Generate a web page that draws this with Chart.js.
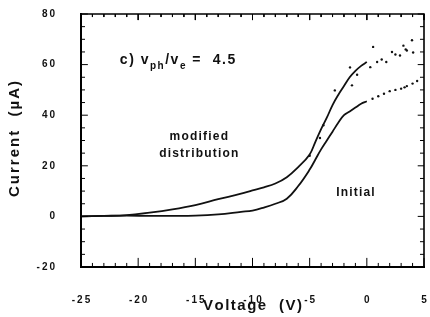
<!DOCTYPE html>
<html>
<head>
<meta charset="utf-8">
<script src="https://cdn.jsdelivr.net/npm/chart.js@4"></script>
<style>
  html, body { margin: 0; padding: 0; background: #fff; }
</style>
</head>
<body>
<canvas id="chart" width="430" height="317"></canvas>
<script>
/* ---------- data ---------- */

// fitted curves (solid lines)
const fitVoltage = [-25, -23, -21, -19, -17, -15, -13, -11, -10, -9, -8, -7, -6, -5, -4.5, -4, -3.5, -3, -2.5, -2, -1.5, -1, -0.5, 0];
const modifiedFit = [0, 0.2, 0.5, 1.5, 2.8, 4.5, 6.8, 9, 10.3, 11.5, 13, 15.5, 19.5, 24.5, 29.5, 34.5, 39, 44, 48, 51.5, 55, 57.5, 59.5, 61];
const initialFit  = [0, 0.2, 0.3, 0.2, 0.2, 0.3, 0.8, 1.8, 2.3, 3.5, 5, 7, 12, 18.5, 22.5, 26.5, 30, 33.5, 37, 40, 41.5, 43, 44.5, 45.5];

// loose measured points (dots)
const modifiedDotV = [-5, -4.1, -3.8, -2.8, -1.3, -1.47, -0.85, 0.3, 0.55, 0.9, 1.3, 1.7, 2.2, 2.5, 2.9, 3.2, 3.4, 3.5, 3.95, 4.05];
const modifiedDotI = [24, 31, 36, 49.8, 51.8, 58.9, 56, 59, 67, 61, 62, 61, 65, 64, 63.6, 67.5, 66, 65.6, 69.6, 64.8];
const initialDotV = [0.5, 1.0, 1.5, 2.0, 2.5, 3.0, 3.3, 3.5, 4.0, 4.4];
const initialDotI = [46.5, 47.5, 48.5, 49.5, 50, 50.5, 51, 51.5, 52.5, 53.5];

// axis ticks: labels every 5 V / 20 uA, small marks every 1 V / 5 uA
const xTicks = [-25, -20, -15, -10, -5, 0, 5];
const yTicks = [-20, 0, 20, 40, 60, 80];
const xMinorStep = 1, yMinorStep = 5;

/* ---------- helpers ---------- */

function pairs(xs, ys) {
    return xs.map((x, i) => ({ x: x, y: ys[i] }));
}

const INK = '#111';
const FRAME = '#000';
const FONT = '"Liberation Sans", Arial, sans-serif';

const X0 = xTicks[0], X1 = xTicks[xTicks.length - 1];
const Y0 = yTicks[0], Y1 = yTicks[yTicks.length - 1];

// box round the plot, in axis units
const boxLine = [
    { x: X0, y: Y1 }, { x: X1, y: Y1 }, { x: X1, y: Y0 }, { x: X0, y: Y0 }, { x: X0, y: Y1 }
];

// short inward marks on all four sides, in axis units (gaps via null)
const tickLines = [];
for (let v = X0; v <= X1; v += xMinorStep) {
    const major = v % 5 === 0;
    tickLines.push({ x: v, y: Y0 }, { x: v, y: Y0 + (major ? 3.6 : 1.6) }, { x: v, y: null });
    tickLines.push({ x: v, y: Y1 }, { x: v, y: Y1 - (major ? 2.4 : 1.2) }, { x: v, y: null });
}
for (let v = Y0; v <= Y1; v += yMinorStep) {
    const major = v % 20 === 0;
    tickLines.push({ x: X0, y: v }, { x: X0 + (major ? 0.6 : 0.35), y: v }, { x: X0, y: null });
    tickLines.push({ x: X1, y: v }, { x: X1 - (major ? 0.55 : 0.35), y: v }, { x: X1, y: null });
}

const spaced = v => String(v).split('').join('\u2009');

// draw text one glyph at a time to get the wide spacing of the original
function spacedText(ctx, text, x, y, gap, align) {
    const chars = text.split('');
    const widths = chars.map(ch => ctx.measureText(ch).width);
    const total = widths.reduce((s, w) => s + w, 0) + gap * (chars.length - 1);
    let cx = align === 'center' ? x - total / 2 : x;
    ctx.textAlign = 'left';
    chars.forEach((ch, i) => {
        ctx.fillText(ch, cx, y);
        cx += widths[i] + gap;
    });
    return cx;
}

// texts
const labelPlugin = {
    id: 'labels',
    afterDraw(chart) {
        const ctx = chart.ctx;
        const xs = chart.scales.x;
        const ys = chart.scales.y;
        ctx.save();
        ctx.fillStyle = INK;

        // axis titles
        ctx.textBaseline = 'middle';
        ctx.font = 'bold 15px ' + FONT;
        spacedText(ctx, 'Voltage  (V)', (xs.left + xs.right) / 2, 306, 1.5, 'center');
        ctx.save();
        ctx.translate(15, 139);
        ctx.rotate(-Math.PI / 2);
        spacedText(ctx, 'Current  (\u00b5A)', 0, 0, 2, 'center');
        ctx.restore();

        // curve labels
        ctx.font = 'bold 12px ' + FONT;
        spacedText(ctx, 'modified', xs.getPixelForValue(-14.7), ys.getPixelForValue(31.6), 1.2, 'center');
        spacedText(ctx, 'distribution', xs.getPixelForValue(-14.7), ys.getPixelForValue(24.9), 1.2, 'center');
        spacedText(ctx, 'Initial', xs.getPixelForValue(-1.0), ys.getPixelForValue(9.5), 1.2, 'center');

        // panel label  c) v_ph / v_e = 4.5
        ctx.textBaseline = 'alphabetic';
        let x = xs.getPixelForValue(-21.6);
        const y = ys.getPixelForValue(60.1);
        const parts = [
            ['c) v', 14, 0], ['ph', 10, 5], ['/v', 14, 0], ['e', 10, 5], [' =  4.5', 14, 0]
        ];
        parts.forEach(p => {
            ctx.font = 'bold ' + p[1] + 'px ' + FONT;
            x = spacedText(ctx, p[0], x, y + p[2], 1.5, 'left');
        });
        ctx.restore();
    }
};

new Chart(document.getElementById('chart'), {
    type: 'scatter',
    data: {
        datasets: [
            {
                type: 'line',
                data: boxLine,
                borderColor: FRAME,
                borderWidth: 1.6,
                pointRadius: 0,
                fill: false,
                clip: false
            },
            {
                type: 'line',
                data: tickLines,
                borderColor: FRAME,
                borderWidth: 1,
                pointRadius: 0,
                spanGaps: false,
                fill: false,
                clip: false
            },
            {
                type: 'line',
                data: pairs(fitVoltage, modifiedFit),
                borderColor: INK,
                borderWidth: 1.8,
                tension: 0.4,
                pointRadius: 0,
                fill: false
            },
            {
                type: 'line',
                data: pairs(fitVoltage, initialFit),
                borderColor: INK,
                borderWidth: 1.8,
                tension: 0.4,
                pointRadius: 0,
                fill: false
            },
            {
                data: pairs(modifiedDotV, modifiedDotI),
                backgroundColor: INK,
                borderWidth: 0,
                pointRadius: 1.2
            },
            {
                data: pairs(initialDotV, initialDotI),
                backgroundColor: INK,
                borderWidth: 0,
                pointRadius: 1.2
            }
        ]
    },
    options: {
        responsive: false,
        animation: false,
        layout: { padding: { top: 14, right: 6, left: 0, bottom: 0 } },
        plugins: {
            legend: { display: false },
            tooltip: { enabled: false }
        },
        scales: {
            x: {
                type: 'linear',
                min: X0,
                max: X1,
                afterBuildTicks: s => { s.ticks = xTicks.map(v => ({ value: v })); },
                afterFit: s => {
                    s.height = 50;
                    s.paddingLeft = 0; s.paddingRight = 0;
                },
                grid: { display: false },
                border: { display: true, color: FRAME, width: 2 },
                ticks: {
                    padding: 19,
                    maxRotation: 0,
                    autoSkip: false,
                    color: INK,
                    font: { family: FONT, size: 10, weight: 'bold' },
                    callback: spaced
                }
            },
            y: {
                type: 'linear',
                min: Y0,
                max: Y1,
                afterBuildTicks: s => { s.ticks = yTicks.map(v => ({ value: v })); },
                afterFit: s => {
                    s.width = 81;
                    s.paddingTop = 0; s.paddingBottom = 0;
                },
                grid: { display: false },
                border: { display: true, color: FRAME, width: 2 },
                ticks: {
                    padding: 18,
                    autoSkip: false,
                    color: INK,
                    font: { family: FONT, size: 10, weight: 'bold' },
                    callback: spaced
                }
            }
        }
    },
    plugins: [labelPlugin]
});
</script>
</body>
</html>
